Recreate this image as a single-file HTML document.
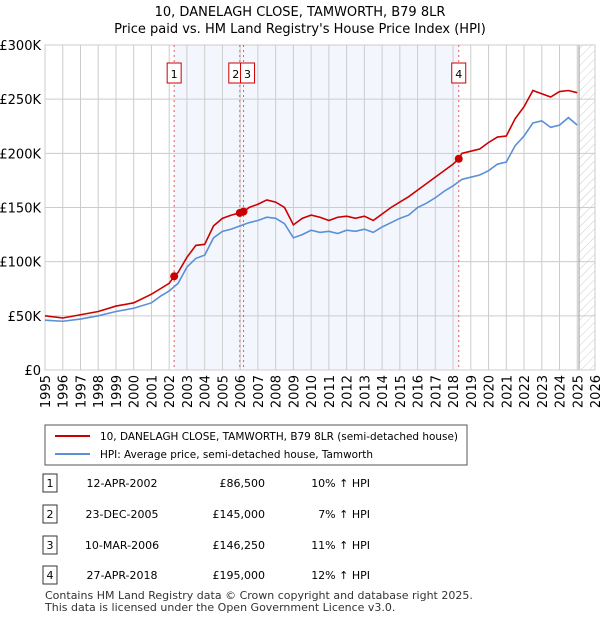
<!DOCTYPE html>
<html><head><meta charset="utf-8"><style>
body{margin:0;background:#fff;font-family:"Liberation Sans","DejaVu Sans",sans-serif;}
svg text{font-family:"DejaVu Sans","Liberation Sans",sans-serif;}
</style></head><body>
<svg width="600" height="620" xmlns="http://www.w3.org/2000/svg">
<defs><pattern id="hatch" width="6" height="6" patternUnits="userSpaceOnUse" patternTransform="rotate(45)"><line x1="0" y1="0" x2="0" y2="6" stroke="#ccc" stroke-width="1"/></pattern></defs>
<text x="300" y="16" text-anchor="middle" font-size="13">10, DANELAGH CLOSE, TAMWORTH, B79 8LR</text>
<text x="300" y="33" text-anchor="middle" font-size="13">Price paid vs. HM Land Registry's House Price Index (HPI)</text>
<g id="plot"></g>
<g>
<rect x="45" y="425" width="422" height="40" fill="#fff" stroke="#555"/>
<line x1="55" y1="436" x2="90" y2="436" stroke="#cc0000" stroke-width="2"/>
<text x="100" y="440" font-size="10.5" textLength="358" lengthAdjust="spacingAndGlyphs">10, DANELAGH CLOSE, TAMWORTH, B79 8LR (semi-detached house)</text>
<line x1="55" y1="454" x2="90" y2="454" stroke="#5b8fd6" stroke-width="2"/>
<text x="100" y="458" font-size="10.5" textLength="273" lengthAdjust="spacingAndGlyphs">HPI: Average price, semi-detached house, Tamworth</text>
</g>
<g id="table" font-size="11"></g>
<text x="45" y="599" font-size="11" fill="#333">Contains HM Land Registry data © Crown copyright and database right 2025.</text>
<text x="45" y="611" font-size="11" fill="#333">This data is licensed under the Open Government Licence v3.0.</text>
</svg>
<script>
const hpiYears=[1995,1996,1997,1998,1999,2000,2001,2001.5,2002,2002.5,2003,2003.5,2004,2004.5,2005,2005.5,2006,2006.5,2007,2007.5,2008,2008.5,2009,2009.5,2010,2010.5,2011,2011.5,2012,2012.5,2013,2013.5,2014,2014.5,2015,2015.5,2016,2016.5,2017,2017.5,2018,2018.5,2019,2019.5,2020,2020.5,2021,2021.5,2022,2022.5,2023,2023.5,2024,2024.5,2025];
const hpiValues=[46,45,47,50,54,57,62,68,73,80,95,103,106,122,128,130,133,136,138,141,140,135,122,125,129,127,128,126,129,128,130,127,132,136,140,143,150,154,159,165,170,176,178,180,184,190,192,207,216,228,230,224,226,233,226];
const priceYears=[1995,1996,1997,1998,1999,2000,2001,2001.5,2002,2002.28,2002.5,2003,2003.5,2004,2004.5,2005,2005.5,2005.98,2006.19,2006.5,2007,2007.5,2008,2008.5,2009,2009.5,2010,2010.5,2011,2011.5,2012,2012.5,2013,2013.5,2014,2014.5,2015,2015.5,2016,2016.5,2017,2017.5,2018,2018.32,2018.5,2019,2019.5,2020,2020.5,2021,2021.5,2022,2022.5,2023,2023.5,2024,2024.5,2025];
const priceValues=[50,48,51,54,59,62,70,75,80,86.5,90,104,115,116,133,140,143,145,146,150,153,157,155,150,134,140,143,141,138,141,142,140,142,138,144,150,155,160,166,172,178,184,190,195,200,202,204,210,215,216,232,243,258,255,252,257,258,256];
const saleLabels=["1","2","3","4"];
const saleDates=["12-APR-2002","23-DEC-2005","10-MAR-2006","27-APR-2018"];
const saleYears=[2002.28,2005.98,2006.19,2018.32];
const salePrices=[86.5,145,146.25,195];
const salePriceText=["£86,500","£145,000","£146,250","£195,000"];
const saleHpiText=["10% ↑ HPI","7% ↑ HPI","11% ↑ HPI","12% ↑ HPI"];
const yTicks=[0,50,100,150,200,250,300];
const yTickLabels=["£0","£50K","£100K","£150K","£200K","£250K","£300K"];
const xTicks=[1995,1996,1997,1998,1999,2000,2001,2002,2003,2004,2005,2006,2007,2008,2009,2010,2011,2012,2013,2014,2015,2016,2017,2018,2019,2020,2021,2022,2023,2024,2025,2026];

const NS="http://www.w3.org/2000/svg";
const L=45,R=595,T=45,B=370;
const X=y=>L+(y-1995)*(R-L)/31;
const Y=v=>B-v*(B-T)/300;
const plot=document.getElementById('plot');
function mk(tag,attrs,parent){const e=document.createElementNS(NS,tag);for(const k in attrs)e.setAttribute(k,attrs[k]);(parent||plot).appendChild(e);return e;}
let e;
e=mk('rect',{x:X(2002.28),y:T,width:X(2018.32)-X(2002.28),height:B-T,fill:'#eef3fc',opacity:0.7});


e=mk('rect',{x:X(2025.1),y:T,width:R-X(2025.1),height:B-T,fill:'url(#hatch)'});


yTicks.forEach((v,i)=>{
 e=mk('line',{x1:L,x2:R,y1:Y(v),y2:Y(v),stroke:'#ccc'});
 
 
 e=mk('text',{x:L-4,y:Y(v)+5,'text-anchor':'end','font-size':13});
 e.textContent=yTickLabels[i];
 
 
});
xTicks.forEach(t=>{
 e=mk('line',{x1:X(t),x2:X(t),y1:T,y2:B,stroke:'#ccc'});
 
 
 e=mk('text',{x:0,y:0,'text-anchor':'end','font-size':13,transform:`translate(${X(t)+5},${B+5}) rotate(-90)`});
 e.textContent=t;
 
 
});
e=mk('line',{x1:X(2025.1),x2:X(2025.1),y1:T,y2:B,stroke:'#999'});


e=mk('rect',{x:L,y:T,width:R-L,height:B-T,fill:'none',stroke:'#ccc'});


saleYears.forEach((y,i)=>{
 e=mk('line',{x1:X(y),x2:X(y),y1:T,y2:B,stroke:'#e06060','stroke-dasharray':'2,3'});
 
 
});
e=mk('polyline',{points:hpiYears.map((y,i)=>X(y)+','+Y(hpiValues[i])).join(' '),fill:'none',stroke:'#5b8fd6','stroke-width':1.6});


e=mk('polyline',{points:priceYears.map((y,i)=>X(y)+','+Y(priceValues[i])).join(' '),fill:'none',stroke:'#cc0000','stroke-width':1.6});


const boxOff=[0,-4,4,0];
saleYears.forEach((y,i)=>{
 e=mk('circle',{cx:X(y),cy:Y(salePrices[i]),r:4,fill:'#cc0000'});
 
 
 const bx=X(y)-7+boxOff[i];
 e=mk('rect',{x:bx,y:63,width:14,height:20,fill:'#fff',stroke:'#cc0000'});
 
 
 e=mk('text',{x:bx+7,y:78,'text-anchor':'middle','font-size':11});
 e.textContent=saleLabels[i];
 
 
});
const tbl=document.getElementById('table');
const rowY=[483,514,545,575];
saleLabels.forEach((s,i)=>{
 const y=rowY[i];
 e=mk('rect',{x:43,y:y-9,width:14,height:18,fill:'#fff',stroke:'#333'},tbl);
 
 
 e=mk('text',{x:50,y:y+4,'text-anchor':'middle'},tbl);e.textContent=s;
 
 
 e=mk('text',{x:122,y:y+4,'text-anchor':'middle'},tbl);e.textContent=saleDates[i];
 
 
 e=mk('text',{x:265,y:y+4,'text-anchor':'end'},tbl);e.textContent=salePriceText[i];
 
 
 e=mk('text',{x:370,y:y+4,'text-anchor':'end'},tbl);e.textContent=saleHpiText[i];
 
 
});
</script>
</body></html>
